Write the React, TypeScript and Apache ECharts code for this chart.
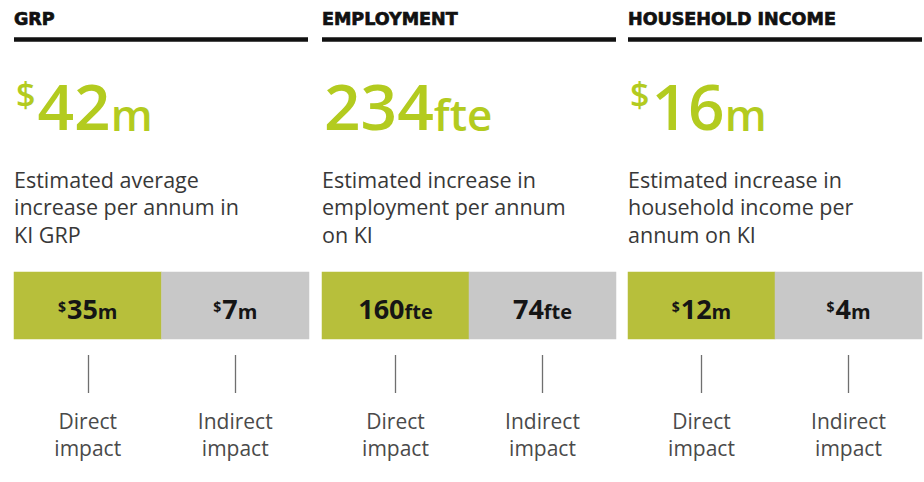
import React, { useEffect, useRef } from "react";
import * as echarts from "echarts";

const panelTitles = ["GRP", "EMPLOYMENT", "HOUSEHOLD INCOME"];
const totalValues = [42, 234, 16];
const valuePrefixes = ["$", "", "$"];
const valueUnits = ["m", "fte", "m"];
const descriptions = [
  "Estimated average\nincrease per annum in\nKI GRP",
  "Estimated increase in\nemployment per annum\non KI",
  "Estimated increase in\nhousehold income per\nannum on KI",
];
const impactCategories = ["Direct\nimpact", "Indirect\nimpact"];
const directValues = [35, 160, 12];
const indirectValues = [7, 74, 4];

const PANEL_X = [14, 322, 628];
const PANEL_W = 294;
const BIG_GREEN = "#b3cb1f";
const BAR_GREEN = "#b7bf3b";
const BAR_GREY = "#c8c8c8";
const FONT = "'Open Sans', 'Noto Sans', sans-serif";

function richLabel(prefix: string, num: number, unit: string) {
  return (prefix ? `{sup|${prefix}}` : "") + `{num|${num}}{unit|${unit}}`;
}

export default function App() {
  const ref = useRef<HTMLDivElement>(null);
  useEffect(() => {
    if (!ref.current) return;
    const chart = echarts.init(ref.current, null, { renderer: "svg" });

    const grids: any[] = [];
    const xAxes: any[] = [];
    const yAxes: any[] = [];
    const series: any[] = [];
    const graphics: any[] = [];

    panelTitles.forEach((title, i) => {
      const x0 = PANEL_X[i];
      grids.push({ left: x0, top: 272, width: PANEL_W + (i === 0 ? 1 : 0), height: 67 });
      xAxes.push({
        type: "category",
        gridIndex: i,
        data: impactCategories,
        position: "bottom",
        offset: 16,
        axisLine: { show: false },
        axisTick: {
          show: true,
          alignWithLabel: true,
          length: 38,
          lineStyle: { color: "#6f6f6f", width: 1.3 },
        },
        axisLabel: {
          margin: 52,
          fontSize: 21,
          lineHeight: 27,
          color: "#4a4a4a",
          fontFamily: FONT,
        },
        splitLine: { show: false },
      });
      yAxes.push({
        type: "category",
        gridIndex: i,
        data: [title],
        show: false,
      });
      const pre = valuePrefixes[i];
      const unit = valueUnits[i];
      series.push({
        type: "heatmap",
        xAxisIndex: i,
        yAxisIndex: i,
        data: [
          [0, 0, directValues[i]],
          [1, 0, indirectValues[i]],
        ],
        label: {
          show: true,
          offset: [0, 1.5],
          formatter: (p: any) => richLabel(pre, p.value[2], unit),
          rich: {
            sup: { fontSize: 14, fontWeight: "bold", color: "#151515", fontFamily: FONT, verticalAlign: "top", padding: [7, 1, 0, 0] },
            num: { fontSize: 27, fontWeight: "bold", color: "#151515", fontFamily: FONT, verticalAlign: "bottom", lineHeight: 30 },
            unit: { fontSize: 20, fontWeight: "bold", color: "#151515", fontFamily: FONT, verticalAlign: "bottom", padding: [0, 0, 1, 0] },
          },
        },
        emphasis: { disabled: true },
      });

      // heading
      graphics.push({
        type: "text",
        x: x0,
        y: 19,
        style: {
          text: title,
          font: "bold 17.5px 'DejaVu Sans', sans-serif",
          fill: "#111",
          stroke: "#111",
          lineWidth: 0.7,
          align: "left",
          verticalAlign: "middle",
        },
      });
      // rule
      graphics.push({
        type: "line",
        shape: { x1: x0, y1: 39.5, x2: x0 + PANEL_W, y2: 39.5 },
        style: { stroke: "#111", lineWidth: 4.5 },
      });
      // big number
      graphics.push({
        type: "text",
        x: x0 + 2,
        y: 67.5,
        style: {
          text: richLabel(pre, totalValues[i], unit),
          align: "left",
          verticalAlign: "top",
          fill: BIG_GREEN,
          rich: {
            sup: { fontSize: 34, fill: BIG_GREEN, fontFamily: FONT, fontWeight: 600, verticalAlign: "top", padding: [9, 2, 0, 0] },
            num: { fontSize: 64, fill: BIG_GREEN, fontFamily: FONT, fontWeight: 600, verticalAlign: "bottom", lineHeight: 70 },
            unit: { fontSize: 44, fill: BIG_GREEN, fontFamily: FONT, fontWeight: 600, verticalAlign: "bottom", padding: [0, 0, 2, 0] },
          },
        },
      });
      // description
      graphics.push({
        type: "text",
        x: x0,
        y: 165.5,
        style: {
          text: descriptions[i],
          font: `21.5px ${FONT}`,
          lineHeight: 27.5,
          fill: "#383838",
          align: "left",
          verticalAlign: "top",
        },
      });
    });

    chart.setOption({
      animation: false,
      backgroundColor: "#ffffff",
      grid: grids,
      xAxis: xAxes,
      yAxis: yAxes,
      visualMap: {
        type: "piecewise",
        show: false,
        dimension: 0,
        seriesIndex: [0, 1, 2],
        pieces: [
          { value: 0, color: BAR_GREEN },
          { value: 1, color: BAR_GREY },
        ],
      },
      series,
      graphic: graphics,
    });
    return () => chart.dispose();
  }, []);
  return (
    <div
      ref={ref}
      style={{ position: "fixed", left: 0, top: 0, width: 924, height: 482 }}
    />
  );
}
